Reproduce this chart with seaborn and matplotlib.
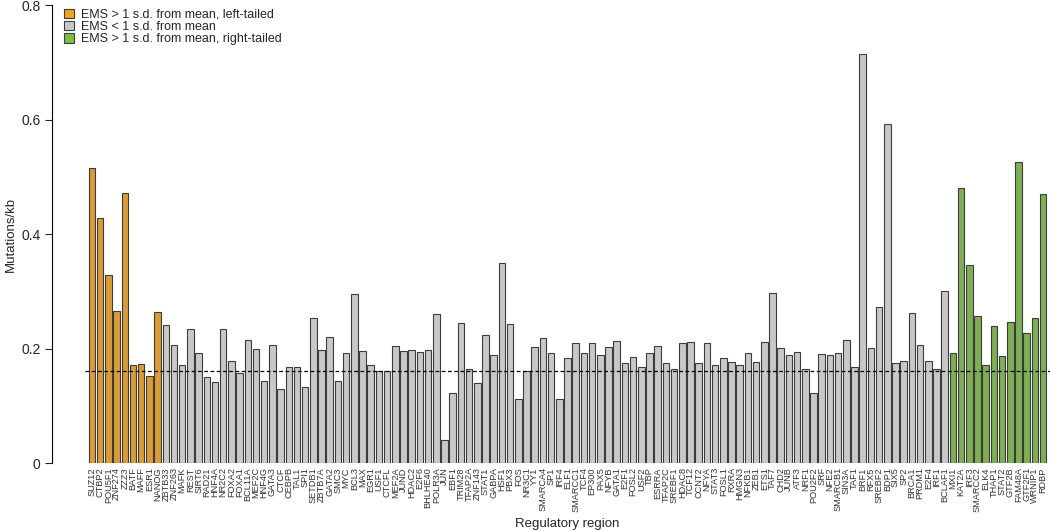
import numpy as np
import pandas as pd
import matplotlib
matplotlib.use("Agg")
import matplotlib.pyplot as plt
import seaborn as sns
from matplotlib.patches import Patch

# ========================= DATA =========================
left_names = ['SUZ12', 'CTBP2', 'POU5F1', 'ZNF274', 'ZZZ3', 'BATF', 'MAFF', 'ESR1', 'NANOG']
left_values = [0.515, 0.428, 0.328, 0.265, 0.472, 0.171, 0.173, 0.152, 0.264]

mid_names = [
    'ZBTB33', 'ZNF263', 'MAFK', 'REST', 'SIRT6', 'RAD21', 'HNF4A', 'NR2C2', 'FOXA2', 'FOXA1',
    'BCL11A', 'MEF2C', 'HNF4G', 'GATA3', 'CTCF', 'CEBPB', 'TAL1', 'SPI1', 'SETDB1', 'ZBTB7A',
    'GATA2', 'SMC3', 'MYC', 'BCL3', 'MAX', 'EGR1', 'USF1', 'CTCFL', 'MEF2A', 'JUND',
    'HDAC2', 'E2F6', 'BHLHE40', 'POLR3A', 'JUN', 'EBF1', 'TRIM28', 'TFAP2A', 'ZNF143', 'STAT1',
    'GABPA', 'HSF1', 'PBX3', 'FOS', 'NR3C1', 'YY1', 'SMARCA4', 'SP1', 'IRF4', 'ELF1',
    'SMARCC1', 'TCF4', 'EP300', 'PAX5', 'NFYB', 'GATA1', 'E2F1', 'FOSL2', 'USF2', 'TBP',
    'ESRRA', 'TFAP2C', 'SREBF1', 'HDAC8', 'TCF12', 'CCNT2', 'NFYA', 'STAT3', 'FOSL1', 'RXRA',
    'HMGN3', 'NFKB1', 'ZEB1', 'ETS1', 'TAF7', 'CHD2', 'JUNB', 'ATF3', 'NRF1', 'POU2F2',
    'SRF', 'NFE2', 'SMARCB1', 'SIN3A', 'TAF1', 'BRF1', 'RFX5', 'SREBF2', 'BDP1', 'SIX5',
    'SP2', 'BRCA1', 'PRDM1', 'E2F4', 'IRF1', 'BCLAF1',
]
mid_values = [
    0.242, 0.207, 0.172, 0.234, 0.193, 0.150, 0.141, 0.235, 0.178, 0.158,
    0.215, 0.199, 0.144, 0.207, 0.130, 0.167, 0.167, 0.133, 0.253, 0.197,
    0.221, 0.144, 0.193, 0.296, 0.195, 0.172, 0.160, 0.161, 0.204, 0.196,
    0.197, 0.194, 0.197, 0.260, 0.040, 0.122, 0.245, 0.165, 0.140, 0.224,
    0.189, 0.349, 0.243, 0.111, 0.161, 0.203, 0.218, 0.193, 0.111, 0.183,
    0.209, 0.192, 0.210, 0.189, 0.203, 0.213, 0.174, 0.185, 0.167, 0.193,
    0.204, 0.174, 0.165, 0.209, 0.211, 0.174, 0.210, 0.171, 0.183, 0.176,
    0.171, 0.192, 0.177, 0.211, 0.297, 0.201, 0.189, 0.194, 0.165, 0.122,
    0.190, 0.189, 0.192, 0.215, 0.168, 0.714, 0.201, 0.273, 0.592, 0.174,
    0.179, 0.262, 0.207, 0.179, 0.165, 0.301,
]

right_names = ['MXI1', 'KAT2A', 'IRF3', 'SMARCC2', 'ELK4', 'THAP1', 'STAT2', 'GTF2B',
               'FAM48A', 'GTF2F1', 'WRNIP1', 'RDBP']
right_values = [0.192, 0.480, 0.346, 0.256, 0.171, 0.239, 0.187, 0.246, 0.526, 0.228, 0.254, 0.470]

group_labels = ['EMS > 1 s.d. from mean, left-tailed',
                'EMS < 1 s.d. from mean',
                'EMS > 1 s.d. from mean, right-tailed']
group_colors = ['#F5A21C', '#C8C8C8', '#7DBE45']
mean_line = 0.161

# ========================= PLOT =========================
df = pd.DataFrame({
    'region': left_names + mid_names + right_names,
    'value': left_values + mid_values + right_values,
    'group': [group_labels[0]] * len(left_names) + [group_labels[1]] * len(mid_names)
             + [group_labels[2]] * len(right_names),
})

sns.set_style('white')
plt.rcParams['font.family'] = ['Liberation Sans', 'DejaVu Sans']

fig = plt.figure(figsize=(10.5, 5.31), dpi=100)
ax = fig.add_axes([0.081, 0.128, 0.919, 0.8624])

sns.barplot(data=df, x='region', y='value', hue='group', order=df['region'],
            hue_order=group_labels, palette=dict(zip(group_labels, group_colors)),
            dodge=False, width=0.8, edgecolor='#3c3c3c', linewidth=0.8,
            ax=ax, legend=False)

ax.axhline(mean_line, color='black', linestyle=(0, (3, 2)), linewidth=0.9)

ax.set_xlim(-0.85, len(df) - 1 + 0.85)
ax.set_ylim(0, 0.8)
ax.set_yticks([0, 0.2, 0.4, 0.6, 0.8])
ax.set_yticklabels(['0', '0.2', '0.4', '0.6', '0.8'], fontsize=9)

ax.tick_params(axis='x', length=0, pad=3, labelsize=6.6, labelrotation=90, colors='#333333')
ax.tick_params(axis='y', length=5, width=0.8, direction='out', left=True, pad=3)

for s in ['top', 'right', 'bottom']:
    ax.spines[s].set_visible(False)
ax.spines['left'].set_position(('outward', 24))
ax.spines['left'].set_linewidth(0.8)
ax.spines['left'].set_color('black')

ax.set_xlabel('Regulatory region', fontsize=9.5, labelpad=4)
ax.set_ylabel('Mutations/kb', fontsize=9.5, labelpad=3)

handles = [Patch(facecolor=c, edgecolor='#3c3c3c', linewidth=0.8) for c in group_colors]
fig.legend(handles, group_labels, loc='upper left', bbox_to_anchor=(0.053, 1.0),
           frameon=False, fontsize=9, handlelength=0.8, handleheight=0.8,
           handletextpad=0.5, labelspacing=0.0, borderpad=0.2)

fig.savefig('out.png', dpi=100)
